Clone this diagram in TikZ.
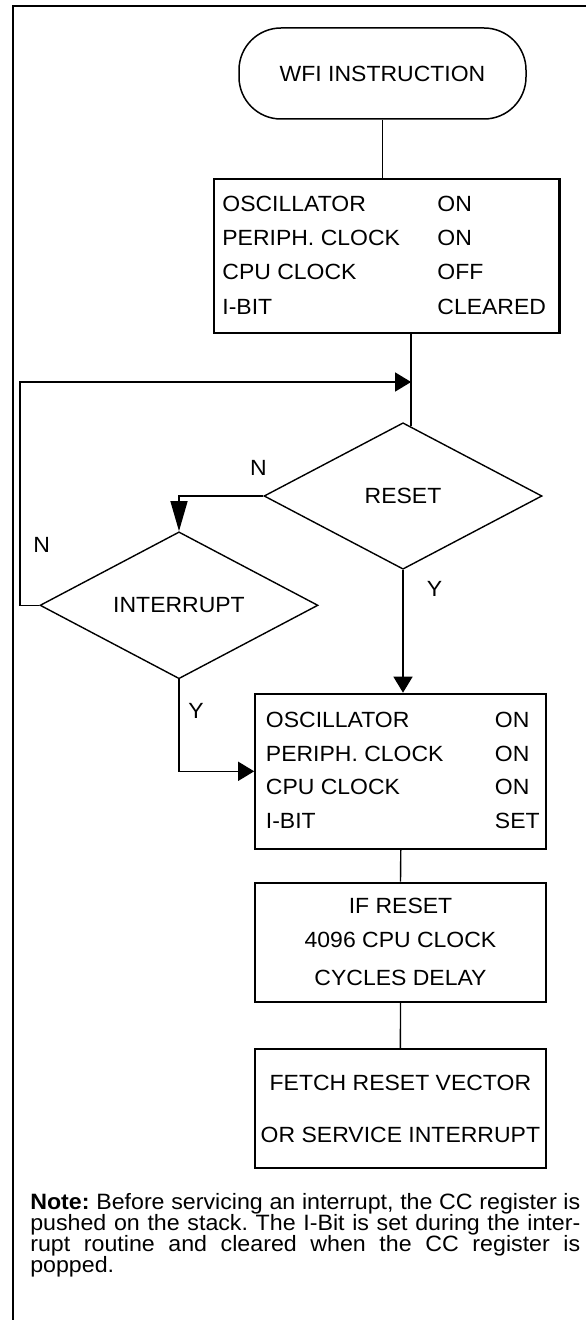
\documentclass[tikz,border=0pt]{standalone}
\usepackage{fontspec}
\setmainfont{Liberation Sans}[FakeStretch=1.045]
\usetikzlibrary{shapes.geometric,arrows.meta,calc,positioning}

\tikzset{
  every node/.style={font=\fontsize{11}{12}\selectfont},
  statebox/.style={draw,line width=1.1pt,inner sep=2pt},
  decision/.style={draw,diamond,line width=0.7pt,minimum width=139pt,minimum height=73.25pt,inner sep=0pt},
  link/.style={line width=0.7pt},
  flow/.style={link,-{Triangle[length=8pt,width=9.5pt]}},
  lbl/.style={inner sep=0pt},
}

\begin{document}
\begin{tikzpicture}[x=0.5pt,y=-0.5pt]
\useasboundingbox (0,0) rectangle (586,1320);
% frame
\draw[line width=1.1pt] (13,1320) -- (13,6) -- (586,6);

\node[draw,line width=0.75pt,rounded corners=21pt,minimum width=143.5pt,minimum height=45.5pt] (wfi) at (382.5,73.5) {WFI INSTRUCTION};
\node[statebox,minimum width=172.7pt,minimum height=77pt] (sleep) at (386.7,256) {\fontsize{11}{17.1}\selectfont
  \begin{tabular}{@{}p{107.5pt}@{}l@{\hspace{2.5pt}}}
  OSCILLATOR & ON\\
  PERIPH. CLOCK & ON\\
  CPU CLOCK & OFF\\
  I-BIT & CLEARED
  \end{tabular}};
\node[decision] (reset) at (403,496) {RESET};
\node[decision] (irq) at (179,605.3) {INTERRUPT};
\node[statebox,minimum width=145.5pt,minimum height=77.5pt] (wake) at (400.8,771.3) {\fontsize{11}{16.8}\selectfont
  \begin{tabular}{@{\hspace{2pt}}p{114.5pt}@{}l@{}}
  OSCILLATOR & ON\\
  PERIPH. CLOCK & ON\\
  CPU CLOCK & ON\\
  I-BIT & SET
  \end{tabular}};
\node[statebox,align=center,minimum width=145.5pt,minimum height=59.6pt,font=\fontsize{11}{16.65}\selectfont] (delay) at (400.5,942.2) {IF RESET\\4096 CPU CLOCK\\[2.55pt]CYCLES DELAY};
\node[statebox,align=center,minimum width=145.2pt,minimum height=59.6pt,font=\fontsize{11}{25.8}\selectfont] (fetch) at (400.4,1108.7) {FETCH RESET VECTOR\\OR SERVICE INTERRUPT};

% branch labels
\node[lbl] (nreset) at ([shift={(-5,-28.5)}]reset.west) {N};
\node[lbl] (yreset) at ([shift={(31.5,18.5)}]reset.south) {Y};
\node[lbl] (nirq) at ([shift={(2.5,-60)}]irq.west) {N};
\node[lbl] (yirq) at ([shift={(17,31)}]irq.south) {Y};

% connectors
\coordinate (rtop) at ($(reset.north)!0.058!(reset.east)$);
\coordinate (loopcorner) at (20,382);
\coordinate (join) at (rtop |- loopcorner);
\draw[link] (wfi.south) -- (wfi.south |- sleep.north);
\draw[link] (sleep.south -| rtop) -- (rtop);
\draw[flow] (irq.west) -| (loopcorner) -- (join);
\draw[link,-{Triangle[length=15pt,width=8.5pt]}] (reset.west) -| (irq.north);
\draw[flow] (reset.south) -- (reset.south |- wake.north);
\draw[flow] (irq.south) |- (wake.west);
\draw[link] (wake.south) -- (delay.north);
\draw[link] (delay.south) -- (fetch.north);

\node[anchor=north west,inner sep=0pt,text width=275pt,align=justify,font={\fontsize{11.1}{10.5}\selectfont\frenchspacing\lineskiplimit=-4pt}] (note) at (29.9,1193.3) {\textbf{Note:} Before servicing an interrupt, the CC register is\linebreak pushed on the stack. The I-Bit is set during the inter-\linebreak rupt routine and cleared when the CC register is\linebreak popped.};
\end{tikzpicture}
\end{document}
